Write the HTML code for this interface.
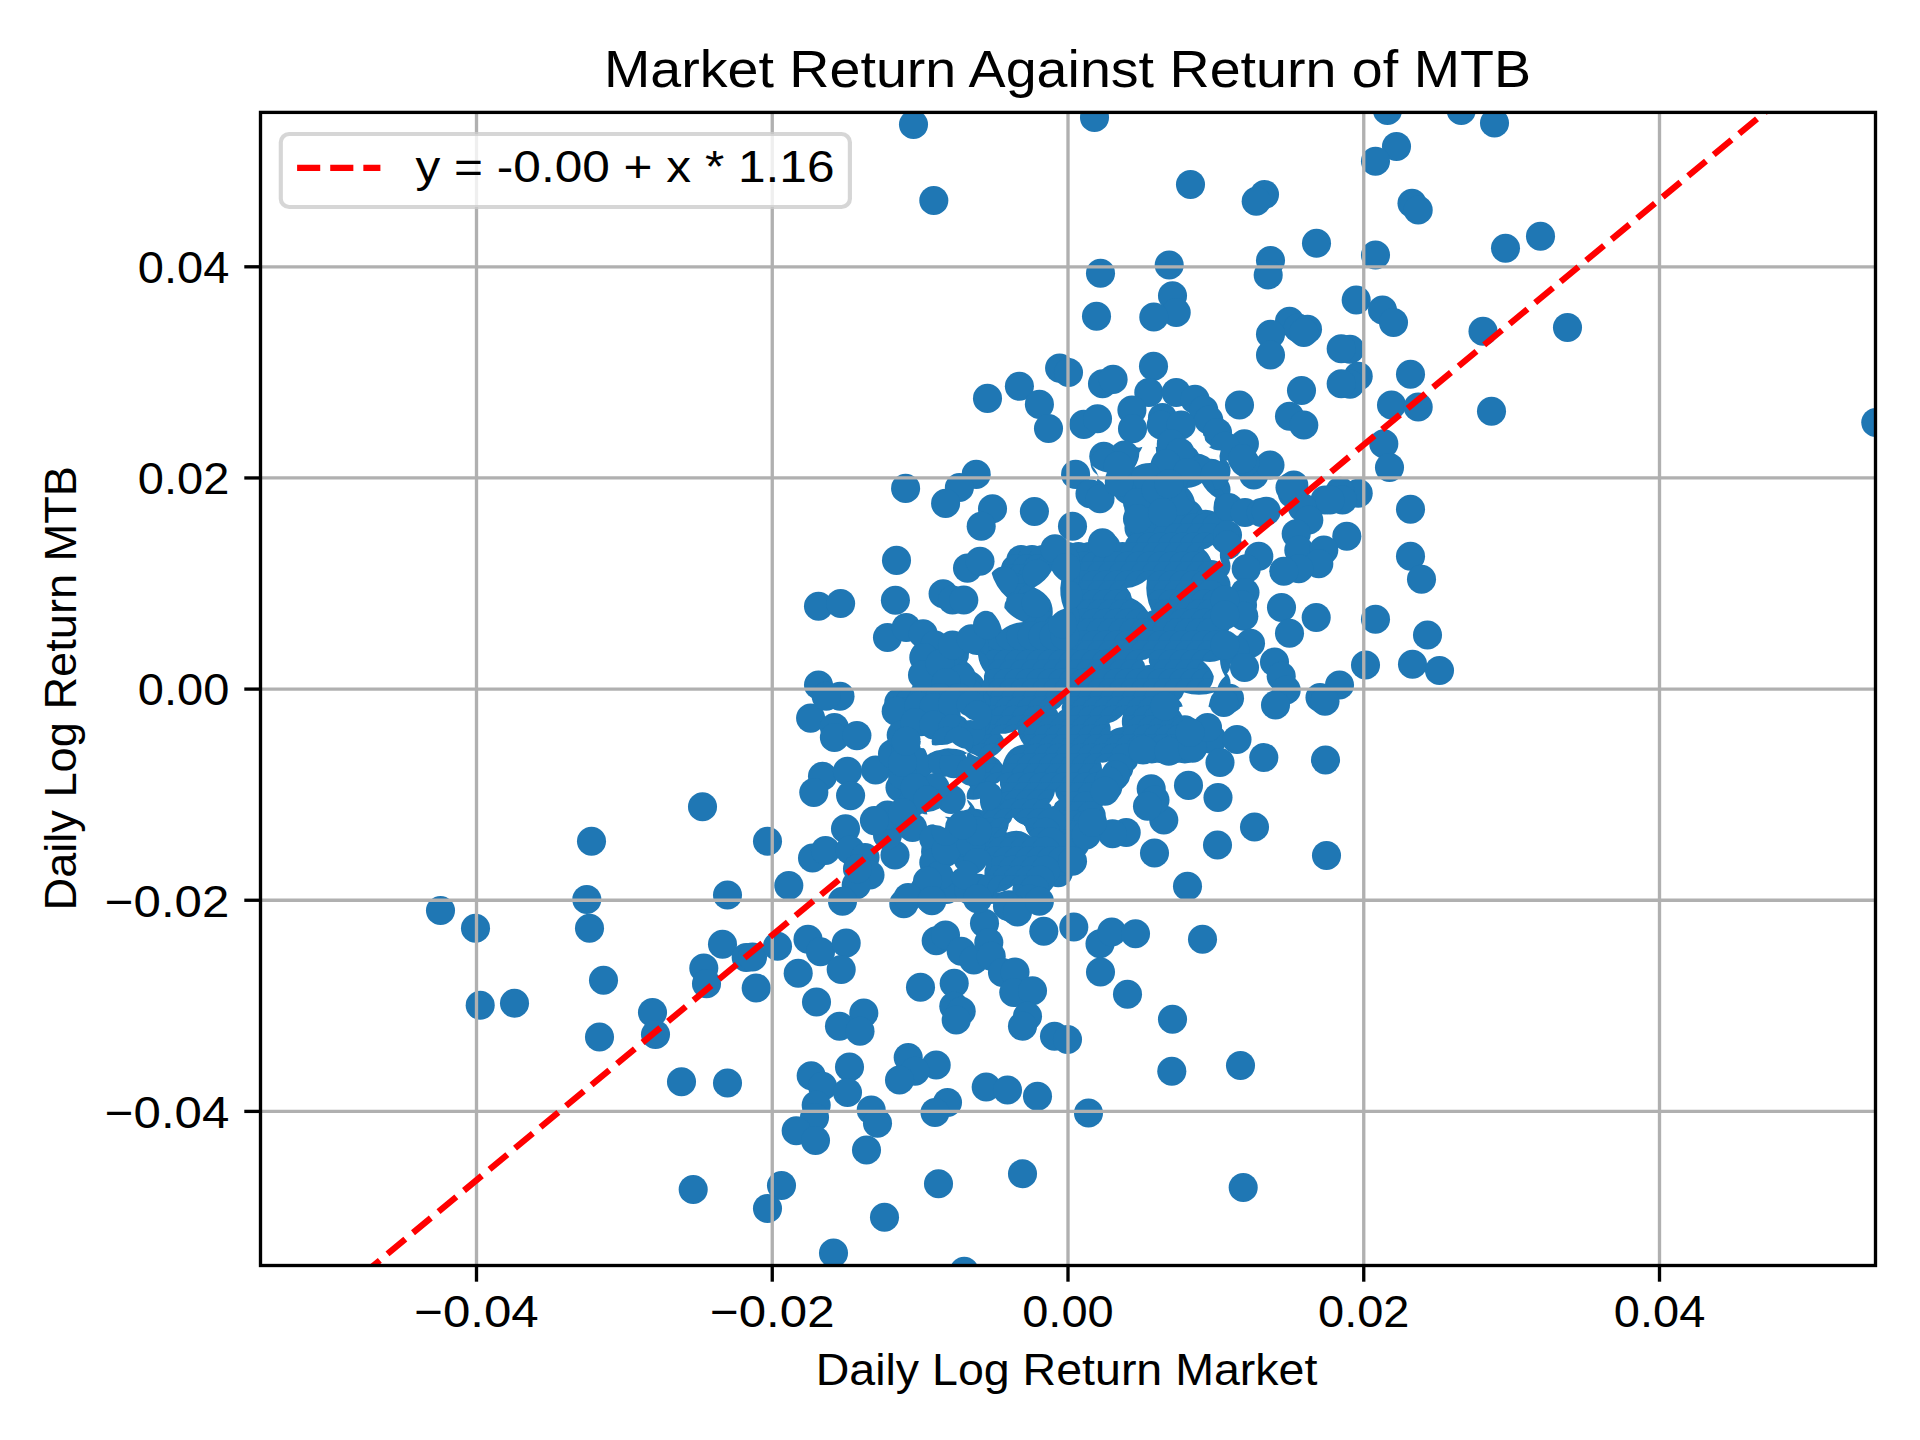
<!DOCTYPE html>
<html><head><meta charset="utf-8"><title>Market Return Against Return of MTB</title>
<style>html,body{margin:0;padding:0;background:#fff;}body{width:1920px;height:1440px;overflow:hidden;}svg{display:block;}text{font-family:"Liberation Sans",sans-serif;fill:#000;}</style></head><body>
<svg width="1920" height="1440" viewBox="0 0 1920 1440">
<defs><clipPath id="ax"><rect x="260.5" y="112.4" width="1615.0" height="1153.1"/></clipPath></defs>
<rect width="1920" height="1440" fill="#fff"/>
<g clip-path="url(#ax)" fill="#1f77b4">
<circle cx="1111.5" cy="461.2" r="14.55"/>
<circle cx="1122.5" cy="461.2" r="14.55"/>
<circle cx="1133.5" cy="461.2" r="14.55"/>
<circle cx="1144.5" cy="461.2" r="14.55"/>
<circle cx="1155.5" cy="461.2" r="14.55"/>
<circle cx="1166.5" cy="461.2" r="14.55"/>
<circle cx="1177.5" cy="461.2" r="14.55"/>
<circle cx="1188.5" cy="461.2" r="14.55"/>
<circle cx="1199.5" cy="461.2" r="14.55"/>
<circle cx="1210.5" cy="461.2" r="14.55"/>
<circle cx="1117.0" cy="470.8" r="14.55"/>
<circle cx="1128.0" cy="470.8" r="14.55"/>
<circle cx="1139.0" cy="470.8" r="14.55"/>
<circle cx="1150.0" cy="470.8" r="14.55"/>
<circle cx="1161.0" cy="470.8" r="14.55"/>
<circle cx="1172.0" cy="470.8" r="14.55"/>
<circle cx="1183.0" cy="470.8" r="14.55"/>
<circle cx="1194.0" cy="470.8" r="14.55"/>
<circle cx="1205.0" cy="470.8" r="14.55"/>
<circle cx="1216.0" cy="470.8" r="14.55"/>
<circle cx="1111.5" cy="480.3" r="14.55"/>
<circle cx="1122.5" cy="480.3" r="14.55"/>
<circle cx="1133.5" cy="480.3" r="14.55"/>
<circle cx="1144.5" cy="480.3" r="14.55"/>
<circle cx="1155.5" cy="480.3" r="14.55"/>
<circle cx="1166.5" cy="480.3" r="14.55"/>
<circle cx="1177.5" cy="480.3" r="14.55"/>
<circle cx="1188.5" cy="480.3" r="14.55"/>
<circle cx="1199.5" cy="480.3" r="14.55"/>
<circle cx="1210.5" cy="480.3" r="14.55"/>
<circle cx="1128.0" cy="489.8" r="14.55"/>
<circle cx="1139.0" cy="489.8" r="14.55"/>
<circle cx="1150.0" cy="489.8" r="14.55"/>
<circle cx="1161.0" cy="489.8" r="14.55"/>
<circle cx="1172.0" cy="489.8" r="14.55"/>
<circle cx="1183.0" cy="489.8" r="14.55"/>
<circle cx="1194.0" cy="489.8" r="14.55"/>
<circle cx="1205.0" cy="489.8" r="14.55"/>
<circle cx="1216.0" cy="489.8" r="14.55"/>
<circle cx="1144.5" cy="499.4" r="14.55"/>
<circle cx="1155.5" cy="499.4" r="14.55"/>
<circle cx="1166.5" cy="499.4" r="14.55"/>
<circle cx="1177.5" cy="499.4" r="14.55"/>
<circle cx="1188.5" cy="499.4" r="14.55"/>
<circle cx="1199.5" cy="499.4" r="14.55"/>
<circle cx="1210.5" cy="499.4" r="14.55"/>
<circle cx="1139.0" cy="508.9" r="14.55"/>
<circle cx="1150.0" cy="508.9" r="14.55"/>
<circle cx="1161.0" cy="508.9" r="14.55"/>
<circle cx="1172.0" cy="508.9" r="14.55"/>
<circle cx="1183.0" cy="508.9" r="14.55"/>
<circle cx="1194.0" cy="508.9" r="14.55"/>
<circle cx="1205.0" cy="508.9" r="14.55"/>
<circle cx="1216.0" cy="508.9" r="14.55"/>
<circle cx="1144.5" cy="518.4" r="14.55"/>
<circle cx="1155.5" cy="518.4" r="14.55"/>
<circle cx="1166.5" cy="518.4" r="14.55"/>
<circle cx="1177.5" cy="518.4" r="14.55"/>
<circle cx="1188.5" cy="518.4" r="14.55"/>
<circle cx="1199.5" cy="518.4" r="14.55"/>
<circle cx="1210.5" cy="518.4" r="14.55"/>
<circle cx="1139.0" cy="527.9" r="14.55"/>
<circle cx="1150.0" cy="527.9" r="14.55"/>
<circle cx="1161.0" cy="527.9" r="14.55"/>
<circle cx="1172.0" cy="527.9" r="14.55"/>
<circle cx="1183.0" cy="527.9" r="14.55"/>
<circle cx="1194.0" cy="527.9" r="14.55"/>
<circle cx="1205.0" cy="527.9" r="14.55"/>
<circle cx="1216.0" cy="527.9" r="14.55"/>
<circle cx="1144.5" cy="537.5" r="14.55"/>
<circle cx="1155.5" cy="537.5" r="14.55"/>
<circle cx="1166.5" cy="537.5" r="14.55"/>
<circle cx="1177.5" cy="537.5" r="14.55"/>
<circle cx="1188.5" cy="537.5" r="14.55"/>
<circle cx="1199.5" cy="537.5" r="14.55"/>
<circle cx="1210.5" cy="537.5" r="14.55"/>
<circle cx="1106.0" cy="547.0" r="14.55"/>
<circle cx="1139.0" cy="547.0" r="14.55"/>
<circle cx="1150.0" cy="547.0" r="14.55"/>
<circle cx="1161.0" cy="547.0" r="14.55"/>
<circle cx="1172.0" cy="547.0" r="14.55"/>
<circle cx="1183.0" cy="547.0" r="14.55"/>
<circle cx="1194.0" cy="547.0" r="14.55"/>
<circle cx="1205.0" cy="547.0" r="14.55"/>
<circle cx="1216.0" cy="547.0" r="14.55"/>
<circle cx="1067.5" cy="556.5" r="14.55"/>
<circle cx="1078.5" cy="556.5" r="14.55"/>
<circle cx="1089.5" cy="556.5" r="14.55"/>
<circle cx="1100.5" cy="556.5" r="14.55"/>
<circle cx="1111.5" cy="556.5" r="14.55"/>
<circle cx="1122.5" cy="556.5" r="14.55"/>
<circle cx="1133.5" cy="556.5" r="14.55"/>
<circle cx="1144.5" cy="556.5" r="14.55"/>
<circle cx="1155.5" cy="556.5" r="14.55"/>
<circle cx="1166.5" cy="556.5" r="14.55"/>
<circle cx="1177.5" cy="556.5" r="14.55"/>
<circle cx="1188.5" cy="556.5" r="14.55"/>
<circle cx="1199.5" cy="556.5" r="14.55"/>
<circle cx="1210.5" cy="556.5" r="14.55"/>
<circle cx="1073.0" cy="566.0" r="14.55"/>
<circle cx="1084.0" cy="566.0" r="14.55"/>
<circle cx="1095.0" cy="566.0" r="14.55"/>
<circle cx="1106.0" cy="566.0" r="14.55"/>
<circle cx="1117.0" cy="566.0" r="14.55"/>
<circle cx="1128.0" cy="566.0" r="14.55"/>
<circle cx="1139.0" cy="566.0" r="14.55"/>
<circle cx="1150.0" cy="566.0" r="14.55"/>
<circle cx="1161.0" cy="566.0" r="14.55"/>
<circle cx="1172.0" cy="566.0" r="14.55"/>
<circle cx="1183.0" cy="566.0" r="14.55"/>
<circle cx="1194.0" cy="566.0" r="14.55"/>
<circle cx="1205.0" cy="566.0" r="14.55"/>
<circle cx="1216.0" cy="566.0" r="14.55"/>
<circle cx="1067.5" cy="575.6" r="14.55"/>
<circle cx="1078.5" cy="575.6" r="14.55"/>
<circle cx="1089.5" cy="575.6" r="14.55"/>
<circle cx="1100.5" cy="575.6" r="14.55"/>
<circle cx="1111.5" cy="575.6" r="14.55"/>
<circle cx="1122.5" cy="575.6" r="14.55"/>
<circle cx="1133.5" cy="575.6" r="14.55"/>
<circle cx="1144.5" cy="575.6" r="14.55"/>
<circle cx="1155.5" cy="575.6" r="14.55"/>
<circle cx="1166.5" cy="575.6" r="14.55"/>
<circle cx="1177.5" cy="575.6" r="14.55"/>
<circle cx="1188.5" cy="575.6" r="14.55"/>
<circle cx="1199.5" cy="575.6" r="14.55"/>
<circle cx="1210.5" cy="575.6" r="14.55"/>
<circle cx="1073.0" cy="585.1" r="14.55"/>
<circle cx="1084.0" cy="585.1" r="14.55"/>
<circle cx="1095.0" cy="585.1" r="14.55"/>
<circle cx="1106.0" cy="585.1" r="14.55"/>
<circle cx="1117.0" cy="585.1" r="14.55"/>
<circle cx="1128.0" cy="585.1" r="14.55"/>
<circle cx="1139.0" cy="585.1" r="14.55"/>
<circle cx="1150.0" cy="585.1" r="14.55"/>
<circle cx="1161.0" cy="585.1" r="14.55"/>
<circle cx="1172.0" cy="585.1" r="14.55"/>
<circle cx="1183.0" cy="585.1" r="14.55"/>
<circle cx="1194.0" cy="585.1" r="14.55"/>
<circle cx="1205.0" cy="585.1" r="14.55"/>
<circle cx="1216.0" cy="585.1" r="14.55"/>
<circle cx="1067.5" cy="594.6" r="14.55"/>
<circle cx="1078.5" cy="594.6" r="14.55"/>
<circle cx="1089.5" cy="594.6" r="14.55"/>
<circle cx="1100.5" cy="594.6" r="14.55"/>
<circle cx="1111.5" cy="594.6" r="14.55"/>
<circle cx="1122.5" cy="594.6" r="14.55"/>
<circle cx="1133.5" cy="594.6" r="14.55"/>
<circle cx="1144.5" cy="594.6" r="14.55"/>
<circle cx="1155.5" cy="594.6" r="14.55"/>
<circle cx="1166.5" cy="594.6" r="14.55"/>
<circle cx="1177.5" cy="594.6" r="14.55"/>
<circle cx="1188.5" cy="594.6" r="14.55"/>
<circle cx="1199.5" cy="594.6" r="14.55"/>
<circle cx="1210.5" cy="594.6" r="14.55"/>
<circle cx="1073.0" cy="604.1" r="14.55"/>
<circle cx="1084.0" cy="604.1" r="14.55"/>
<circle cx="1095.0" cy="604.1" r="14.55"/>
<circle cx="1106.0" cy="604.1" r="14.55"/>
<circle cx="1117.0" cy="604.1" r="14.55"/>
<circle cx="1128.0" cy="604.1" r="14.55"/>
<circle cx="1139.0" cy="604.1" r="14.55"/>
<circle cx="1150.0" cy="604.1" r="14.55"/>
<circle cx="1161.0" cy="604.1" r="14.55"/>
<circle cx="1172.0" cy="604.1" r="14.55"/>
<circle cx="1183.0" cy="604.1" r="14.55"/>
<circle cx="1194.0" cy="604.1" r="14.55"/>
<circle cx="1205.0" cy="604.1" r="14.55"/>
<circle cx="1216.0" cy="604.1" r="14.55"/>
<circle cx="1067.5" cy="613.7" r="14.55"/>
<circle cx="1078.5" cy="613.7" r="14.55"/>
<circle cx="1089.5" cy="613.7" r="14.55"/>
<circle cx="1100.5" cy="613.7" r="14.55"/>
<circle cx="1111.5" cy="613.7" r="14.55"/>
<circle cx="1122.5" cy="613.7" r="14.55"/>
<circle cx="1133.5" cy="613.7" r="14.55"/>
<circle cx="1144.5" cy="613.7" r="14.55"/>
<circle cx="1155.5" cy="613.7" r="14.55"/>
<circle cx="1166.5" cy="613.7" r="14.55"/>
<circle cx="1177.5" cy="613.7" r="14.55"/>
<circle cx="1188.5" cy="613.7" r="14.55"/>
<circle cx="1199.5" cy="613.7" r="14.55"/>
<circle cx="1210.5" cy="613.7" r="14.55"/>
<circle cx="1073.0" cy="623.2" r="14.55"/>
<circle cx="1084.0" cy="623.2" r="14.55"/>
<circle cx="1095.0" cy="623.2" r="14.55"/>
<circle cx="1106.0" cy="623.2" r="14.55"/>
<circle cx="1117.0" cy="623.2" r="14.55"/>
<circle cx="1128.0" cy="623.2" r="14.55"/>
<circle cx="1139.0" cy="623.2" r="14.55"/>
<circle cx="1150.0" cy="623.2" r="14.55"/>
<circle cx="1161.0" cy="623.2" r="14.55"/>
<circle cx="1172.0" cy="623.2" r="14.55"/>
<circle cx="1183.0" cy="623.2" r="14.55"/>
<circle cx="1194.0" cy="623.2" r="14.55"/>
<circle cx="1205.0" cy="623.2" r="14.55"/>
<circle cx="1216.0" cy="623.2" r="14.55"/>
<circle cx="1067.5" cy="632.7" r="14.55"/>
<circle cx="1078.5" cy="632.7" r="14.55"/>
<circle cx="1089.5" cy="632.7" r="14.55"/>
<circle cx="1100.5" cy="632.7" r="14.55"/>
<circle cx="1111.5" cy="632.7" r="14.55"/>
<circle cx="1122.5" cy="632.7" r="14.55"/>
<circle cx="1133.5" cy="632.7" r="14.55"/>
<circle cx="1144.5" cy="632.7" r="14.55"/>
<circle cx="1155.5" cy="632.7" r="14.55"/>
<circle cx="1166.5" cy="632.7" r="14.55"/>
<circle cx="1177.5" cy="632.7" r="14.55"/>
<circle cx="1188.5" cy="632.7" r="14.55"/>
<circle cx="1199.5" cy="632.7" r="14.55"/>
<circle cx="1210.5" cy="632.7" r="14.55"/>
<circle cx="985.0" cy="645.0" r="14.55"/>
<circle cx="996.0" cy="645.0" r="14.55"/>
<circle cx="1007.0" cy="645.0" r="14.55"/>
<circle cx="1018.0" cy="645.0" r="14.55"/>
<circle cx="1029.0" cy="645.0" r="14.55"/>
<circle cx="1040.0" cy="645.0" r="14.55"/>
<circle cx="1051.0" cy="645.0" r="14.55"/>
<circle cx="1062.0" cy="645.0" r="14.55"/>
<circle cx="1073.0" cy="645.0" r="14.55"/>
<circle cx="1084.0" cy="645.0" r="14.55"/>
<circle cx="1095.0" cy="645.0" r="14.55"/>
<circle cx="1106.0" cy="645.0" r="14.55"/>
<circle cx="1117.0" cy="645.0" r="14.55"/>
<circle cx="1128.0" cy="645.0" r="14.55"/>
<circle cx="1139.0" cy="645.0" r="14.55"/>
<circle cx="1150.0" cy="645.0" r="14.55"/>
<circle cx="1161.0" cy="645.0" r="14.55"/>
<circle cx="1172.0" cy="645.0" r="14.55"/>
<circle cx="1183.0" cy="645.0" r="14.55"/>
<circle cx="1194.0" cy="645.0" r="14.55"/>
<circle cx="1205.0" cy="645.0" r="14.55"/>
<circle cx="1216.0" cy="645.0" r="14.55"/>
<circle cx="990.5" cy="654.5" r="14.55"/>
<circle cx="1001.5" cy="654.5" r="14.55"/>
<circle cx="1012.5" cy="654.5" r="14.55"/>
<circle cx="1023.5" cy="654.5" r="14.55"/>
<circle cx="1034.5" cy="654.5" r="14.55"/>
<circle cx="1045.5" cy="654.5" r="14.55"/>
<circle cx="1056.5" cy="654.5" r="14.55"/>
<circle cx="1067.5" cy="654.5" r="14.55"/>
<circle cx="1078.5" cy="654.5" r="14.55"/>
<circle cx="1089.5" cy="654.5" r="14.55"/>
<circle cx="1100.5" cy="654.5" r="14.55"/>
<circle cx="1111.5" cy="654.5" r="14.55"/>
<circle cx="1122.5" cy="654.5" r="14.55"/>
<circle cx="1133.5" cy="654.5" r="14.55"/>
<circle cx="1144.5" cy="654.5" r="14.55"/>
<circle cx="1155.5" cy="654.5" r="14.55"/>
<circle cx="1166.5" cy="654.5" r="14.55"/>
<circle cx="1177.5" cy="654.5" r="14.55"/>
<circle cx="1188.5" cy="654.5" r="14.55"/>
<circle cx="1199.5" cy="654.5" r="14.55"/>
<circle cx="1210.5" cy="654.5" r="14.55"/>
<circle cx="985.0" cy="664.1" r="14.55"/>
<circle cx="996.0" cy="664.1" r="14.55"/>
<circle cx="1007.0" cy="664.1" r="14.55"/>
<circle cx="1018.0" cy="664.1" r="14.55"/>
<circle cx="1029.0" cy="664.1" r="14.55"/>
<circle cx="1040.0" cy="664.1" r="14.55"/>
<circle cx="1051.0" cy="664.1" r="14.55"/>
<circle cx="1062.0" cy="664.1" r="14.55"/>
<circle cx="1073.0" cy="664.1" r="14.55"/>
<circle cx="1084.0" cy="664.1" r="14.55"/>
<circle cx="1095.0" cy="664.1" r="14.55"/>
<circle cx="1106.0" cy="664.1" r="14.55"/>
<circle cx="1117.0" cy="664.1" r="14.55"/>
<circle cx="1128.0" cy="664.1" r="14.55"/>
<circle cx="1139.0" cy="664.1" r="14.55"/>
<circle cx="1150.0" cy="664.1" r="14.55"/>
<circle cx="1161.0" cy="664.1" r="14.55"/>
<circle cx="1172.0" cy="664.1" r="14.55"/>
<circle cx="1183.0" cy="664.1" r="14.55"/>
<circle cx="1194.0" cy="664.1" r="14.55"/>
<circle cx="1205.0" cy="664.1" r="14.55"/>
<circle cx="1216.0" cy="664.1" r="14.55"/>
<circle cx="990.5" cy="673.6" r="14.55"/>
<circle cx="1001.5" cy="673.6" r="14.55"/>
<circle cx="1012.5" cy="673.6" r="14.55"/>
<circle cx="1023.5" cy="673.6" r="14.55"/>
<circle cx="1034.5" cy="673.6" r="14.55"/>
<circle cx="1045.5" cy="673.6" r="14.55"/>
<circle cx="1056.5" cy="673.6" r="14.55"/>
<circle cx="1067.5" cy="673.6" r="14.55"/>
<circle cx="1078.5" cy="673.6" r="14.55"/>
<circle cx="1089.5" cy="673.6" r="14.55"/>
<circle cx="1100.5" cy="673.6" r="14.55"/>
<circle cx="1111.5" cy="673.6" r="14.55"/>
<circle cx="1122.5" cy="673.6" r="14.55"/>
<circle cx="1133.5" cy="673.6" r="14.55"/>
<circle cx="1144.5" cy="673.6" r="14.55"/>
<circle cx="1155.5" cy="673.6" r="14.55"/>
<circle cx="1166.5" cy="673.6" r="14.55"/>
<circle cx="1177.5" cy="673.6" r="14.55"/>
<circle cx="1188.5" cy="673.6" r="14.55"/>
<circle cx="1199.5" cy="673.6" r="14.55"/>
<circle cx="1210.5" cy="673.6" r="14.55"/>
<circle cx="985.0" cy="683.1" r="14.55"/>
<circle cx="996.0" cy="683.1" r="14.55"/>
<circle cx="1007.0" cy="683.1" r="14.55"/>
<circle cx="1018.0" cy="683.1" r="14.55"/>
<circle cx="1029.0" cy="683.1" r="14.55"/>
<circle cx="1040.0" cy="683.1" r="14.55"/>
<circle cx="1051.0" cy="683.1" r="14.55"/>
<circle cx="1062.0" cy="683.1" r="14.55"/>
<circle cx="1073.0" cy="683.1" r="14.55"/>
<circle cx="1084.0" cy="683.1" r="14.55"/>
<circle cx="1095.0" cy="683.1" r="14.55"/>
<circle cx="1106.0" cy="683.1" r="14.55"/>
<circle cx="1117.0" cy="683.1" r="14.55"/>
<circle cx="1128.0" cy="683.1" r="14.55"/>
<circle cx="1139.0" cy="683.1" r="14.55"/>
<circle cx="1150.0" cy="683.1" r="14.55"/>
<circle cx="1161.0" cy="683.1" r="14.55"/>
<circle cx="1172.0" cy="683.1" r="14.55"/>
<circle cx="1183.0" cy="683.1" r="14.55"/>
<circle cx="1194.0" cy="683.1" r="14.55"/>
<circle cx="1205.0" cy="683.1" r="14.55"/>
<circle cx="1216.0" cy="683.1" r="14.55"/>
<circle cx="990.5" cy="692.6" r="14.55"/>
<circle cx="1001.5" cy="692.6" r="14.55"/>
<circle cx="1012.5" cy="692.6" r="14.55"/>
<circle cx="1023.5" cy="692.6" r="14.55"/>
<circle cx="1034.5" cy="692.6" r="14.55"/>
<circle cx="1045.5" cy="692.6" r="14.55"/>
<circle cx="1056.5" cy="692.6" r="14.55"/>
<circle cx="1067.5" cy="692.6" r="14.55"/>
<circle cx="1078.5" cy="692.6" r="14.55"/>
<circle cx="1089.5" cy="692.6" r="14.55"/>
<circle cx="1100.5" cy="692.6" r="14.55"/>
<circle cx="1111.5" cy="692.6" r="14.55"/>
<circle cx="1122.5" cy="692.6" r="14.55"/>
<circle cx="1133.5" cy="692.6" r="14.55"/>
<circle cx="1144.5" cy="692.6" r="14.55"/>
<circle cx="1155.5" cy="692.6" r="14.55"/>
<circle cx="1166.5" cy="692.6" r="14.55"/>
<circle cx="1177.5" cy="692.6" r="14.55"/>
<circle cx="1188.5" cy="692.6" r="14.55"/>
<circle cx="1199.5" cy="692.6" r="14.55"/>
<circle cx="1210.5" cy="692.6" r="14.55"/>
<circle cx="1021.0" cy="559.5" r="14.55"/>
<circle cx="1032.0" cy="559.5" r="14.55"/>
<circle cx="1043.0" cy="559.5" r="14.55"/>
<circle cx="1054.0" cy="559.5" r="14.55"/>
<circle cx="1065.0" cy="559.5" r="14.55"/>
<circle cx="1015.5" cy="569.1" r="14.55"/>
<circle cx="1026.5" cy="569.1" r="14.55"/>
<circle cx="1037.5" cy="569.1" r="14.55"/>
<circle cx="1048.5" cy="569.1" r="14.55"/>
<circle cx="1059.5" cy="569.1" r="14.55"/>
<circle cx="1010.0" cy="578.6" r="14.55"/>
<circle cx="1021.0" cy="578.6" r="14.55"/>
<circle cx="1032.0" cy="578.6" r="14.55"/>
<circle cx="1043.0" cy="578.6" r="14.55"/>
<circle cx="1054.0" cy="578.6" r="14.55"/>
<circle cx="1065.0" cy="578.6" r="14.55"/>
<circle cx="1015.5" cy="588.1" r="14.55"/>
<circle cx="1026.5" cy="588.1" r="14.55"/>
<circle cx="1037.5" cy="588.1" r="14.55"/>
<circle cx="1048.5" cy="588.1" r="14.55"/>
<circle cx="1059.5" cy="588.1" r="14.55"/>
<circle cx="1021.0" cy="597.6" r="14.55"/>
<circle cx="1032.0" cy="597.6" r="14.55"/>
<circle cx="1043.0" cy="597.6" r="14.55"/>
<circle cx="1054.0" cy="597.6" r="14.55"/>
<circle cx="1065.0" cy="597.6" r="14.55"/>
<circle cx="1026.5" cy="607.2" r="14.55"/>
<circle cx="1037.5" cy="607.2" r="14.55"/>
<circle cx="1048.5" cy="607.2" r="14.55"/>
<circle cx="1059.5" cy="607.2" r="14.55"/>
<circle cx="1010.0" cy="616.7" r="14.55"/>
<circle cx="1021.0" cy="616.7" r="14.55"/>
<circle cx="1032.0" cy="616.7" r="14.55"/>
<circle cx="1043.0" cy="616.7" r="14.55"/>
<circle cx="1054.0" cy="616.7" r="14.55"/>
<circle cx="1065.0" cy="616.7" r="14.55"/>
<circle cx="993.5" cy="626.2" r="14.55"/>
<circle cx="1004.5" cy="626.2" r="14.55"/>
<circle cx="1015.5" cy="626.2" r="14.55"/>
<circle cx="1026.5" cy="626.2" r="14.55"/>
<circle cx="1037.5" cy="626.2" r="14.55"/>
<circle cx="1048.5" cy="626.2" r="14.55"/>
<circle cx="1059.5" cy="626.2" r="14.55"/>
<circle cx="988.0" cy="635.7" r="14.55"/>
<circle cx="999.0" cy="635.7" r="14.55"/>
<circle cx="1010.0" cy="635.7" r="14.55"/>
<circle cx="1021.0" cy="635.7" r="14.55"/>
<circle cx="1032.0" cy="635.7" r="14.55"/>
<circle cx="1043.0" cy="635.7" r="14.55"/>
<circle cx="1054.0" cy="635.7" r="14.55"/>
<circle cx="1065.0" cy="635.7" r="14.55"/>
<circle cx="981.2" cy="701.2" r="14.55"/>
<circle cx="992.2" cy="701.2" r="14.55"/>
<circle cx="1003.2" cy="701.2" r="14.55"/>
<circle cx="1014.2" cy="701.2" r="14.55"/>
<circle cx="1025.2" cy="701.2" r="14.55"/>
<circle cx="1036.2" cy="701.2" r="14.55"/>
<circle cx="1047.2" cy="701.2" r="14.55"/>
<circle cx="1058.2" cy="701.2" r="14.55"/>
<circle cx="1069.2" cy="701.2" r="14.55"/>
<circle cx="1080.2" cy="701.2" r="14.55"/>
<circle cx="1091.2" cy="701.2" r="14.55"/>
<circle cx="1102.2" cy="701.2" r="14.55"/>
<circle cx="1113.2" cy="701.2" r="14.55"/>
<circle cx="1124.2" cy="701.2" r="14.55"/>
<circle cx="1135.2" cy="701.2" r="14.55"/>
<circle cx="1146.2" cy="701.2" r="14.55"/>
<circle cx="1157.2" cy="701.2" r="14.55"/>
<circle cx="986.8" cy="710.8" r="14.55"/>
<circle cx="997.8" cy="710.8" r="14.55"/>
<circle cx="1008.8" cy="710.8" r="14.55"/>
<circle cx="1019.8" cy="710.8" r="14.55"/>
<circle cx="1030.8" cy="710.8" r="14.55"/>
<circle cx="1041.8" cy="710.8" r="14.55"/>
<circle cx="1052.8" cy="710.8" r="14.55"/>
<circle cx="1063.8" cy="710.8" r="14.55"/>
<circle cx="1074.8" cy="710.8" r="14.55"/>
<circle cx="1085.8" cy="710.8" r="14.55"/>
<circle cx="1096.8" cy="710.8" r="14.55"/>
<circle cx="1107.8" cy="710.8" r="14.55"/>
<circle cx="1118.8" cy="710.8" r="14.55"/>
<circle cx="1129.8" cy="710.8" r="14.55"/>
<circle cx="1140.8" cy="710.8" r="14.55"/>
<circle cx="1151.8" cy="710.8" r="14.55"/>
<circle cx="1162.8" cy="710.8" r="14.55"/>
<circle cx="981.2" cy="720.3" r="14.55"/>
<circle cx="992.2" cy="720.3" r="14.55"/>
<circle cx="1003.2" cy="720.3" r="14.55"/>
<circle cx="1014.2" cy="720.3" r="14.55"/>
<circle cx="1025.2" cy="720.3" r="14.55"/>
<circle cx="1036.2" cy="720.3" r="14.55"/>
<circle cx="1047.2" cy="720.3" r="14.55"/>
<circle cx="1058.2" cy="720.3" r="14.55"/>
<circle cx="1069.2" cy="720.3" r="14.55"/>
<circle cx="1080.2" cy="720.3" r="14.55"/>
<circle cx="1091.2" cy="720.3" r="14.55"/>
<circle cx="1102.2" cy="720.3" r="14.55"/>
<circle cx="1113.2" cy="720.3" r="14.55"/>
<circle cx="1124.2" cy="720.3" r="14.55"/>
<circle cx="1135.2" cy="720.3" r="14.55"/>
<circle cx="1146.2" cy="720.3" r="14.55"/>
<circle cx="1157.2" cy="720.3" r="14.55"/>
<circle cx="1168.2" cy="720.3" r="14.55"/>
<circle cx="986.8" cy="729.8" r="14.55"/>
<circle cx="997.8" cy="729.8" r="14.55"/>
<circle cx="1008.8" cy="729.8" r="14.55"/>
<circle cx="1019.8" cy="729.8" r="14.55"/>
<circle cx="1030.8" cy="729.8" r="14.55"/>
<circle cx="1041.8" cy="729.8" r="14.55"/>
<circle cx="1052.8" cy="729.8" r="14.55"/>
<circle cx="1063.8" cy="729.8" r="14.55"/>
<circle cx="1074.8" cy="729.8" r="14.55"/>
<circle cx="1085.8" cy="729.8" r="14.55"/>
<circle cx="1096.8" cy="729.8" r="14.55"/>
<circle cx="1107.8" cy="729.8" r="14.55"/>
<circle cx="1118.8" cy="729.8" r="14.55"/>
<circle cx="1129.8" cy="729.8" r="14.55"/>
<circle cx="1140.8" cy="729.8" r="14.55"/>
<circle cx="1151.8" cy="729.8" r="14.55"/>
<circle cx="1162.8" cy="729.8" r="14.55"/>
<circle cx="1173.8" cy="729.8" r="14.55"/>
<circle cx="1184.8" cy="729.8" r="14.55"/>
<circle cx="1206.8" cy="729.8" r="14.55"/>
<circle cx="981.2" cy="739.4" r="14.55"/>
<circle cx="992.2" cy="739.4" r="14.55"/>
<circle cx="1003.2" cy="739.4" r="14.55"/>
<circle cx="1014.2" cy="739.4" r="14.55"/>
<circle cx="1025.2" cy="739.4" r="14.55"/>
<circle cx="1036.2" cy="739.4" r="14.55"/>
<circle cx="1047.2" cy="739.4" r="14.55"/>
<circle cx="1058.2" cy="739.4" r="14.55"/>
<circle cx="1069.2" cy="739.4" r="14.55"/>
<circle cx="1080.2" cy="739.4" r="14.55"/>
<circle cx="1091.2" cy="739.4" r="14.55"/>
<circle cx="1102.2" cy="739.4" r="14.55"/>
<circle cx="1113.2" cy="739.4" r="14.55"/>
<circle cx="1124.2" cy="739.4" r="14.55"/>
<circle cx="1135.2" cy="739.4" r="14.55"/>
<circle cx="1146.2" cy="739.4" r="14.55"/>
<circle cx="1157.2" cy="739.4" r="14.55"/>
<circle cx="1168.2" cy="739.4" r="14.55"/>
<circle cx="1179.2" cy="739.4" r="14.55"/>
<circle cx="1190.2" cy="739.4" r="14.55"/>
<circle cx="1201.2" cy="739.4" r="14.55"/>
<circle cx="1212.2" cy="739.4" r="14.55"/>
<circle cx="986.8" cy="748.9" r="14.55"/>
<circle cx="997.8" cy="748.9" r="14.55"/>
<circle cx="1008.8" cy="748.9" r="14.55"/>
<circle cx="1019.8" cy="748.9" r="14.55"/>
<circle cx="1030.8" cy="748.9" r="14.55"/>
<circle cx="1041.8" cy="748.9" r="14.55"/>
<circle cx="1052.8" cy="748.9" r="14.55"/>
<circle cx="1063.8" cy="748.9" r="14.55"/>
<circle cx="1074.8" cy="748.9" r="14.55"/>
<circle cx="1085.8" cy="748.9" r="14.55"/>
<circle cx="1096.8" cy="748.9" r="14.55"/>
<circle cx="1107.8" cy="748.9" r="14.55"/>
<circle cx="1118.8" cy="748.9" r="14.55"/>
<circle cx="1129.8" cy="748.9" r="14.55"/>
<circle cx="1140.8" cy="748.9" r="14.55"/>
<circle cx="1151.8" cy="748.9" r="14.55"/>
<circle cx="1162.8" cy="748.9" r="14.55"/>
<circle cx="1173.8" cy="748.9" r="14.55"/>
<circle cx="1184.8" cy="748.9" r="14.55"/>
<circle cx="981.2" cy="758.4" r="14.55"/>
<circle cx="992.2" cy="758.4" r="14.55"/>
<circle cx="1003.2" cy="758.4" r="14.55"/>
<circle cx="1014.2" cy="758.4" r="14.55"/>
<circle cx="1025.2" cy="758.4" r="14.55"/>
<circle cx="1036.2" cy="758.4" r="14.55"/>
<circle cx="1047.2" cy="758.4" r="14.55"/>
<circle cx="1058.2" cy="758.4" r="14.55"/>
<circle cx="1069.2" cy="758.4" r="14.55"/>
<circle cx="1080.2" cy="758.4" r="14.55"/>
<circle cx="1091.2" cy="758.4" r="14.55"/>
<circle cx="1102.2" cy="758.4" r="14.55"/>
<circle cx="1113.2" cy="758.4" r="14.55"/>
<circle cx="1124.2" cy="758.4" r="14.55"/>
<circle cx="986.8" cy="767.9" r="14.55"/>
<circle cx="997.8" cy="767.9" r="14.55"/>
<circle cx="1008.8" cy="767.9" r="14.55"/>
<circle cx="1019.8" cy="767.9" r="14.55"/>
<circle cx="1030.8" cy="767.9" r="14.55"/>
<circle cx="1041.8" cy="767.9" r="14.55"/>
<circle cx="1052.8" cy="767.9" r="14.55"/>
<circle cx="1063.8" cy="767.9" r="14.55"/>
<circle cx="1074.8" cy="767.9" r="14.55"/>
<circle cx="1085.8" cy="767.9" r="14.55"/>
<circle cx="1096.8" cy="767.9" r="14.55"/>
<circle cx="1107.8" cy="767.9" r="14.55"/>
<circle cx="1118.8" cy="767.9" r="14.55"/>
<circle cx="981.2" cy="777.5" r="14.55"/>
<circle cx="992.2" cy="777.5" r="14.55"/>
<circle cx="1003.2" cy="777.5" r="14.55"/>
<circle cx="1014.2" cy="777.5" r="14.55"/>
<circle cx="1025.2" cy="777.5" r="14.55"/>
<circle cx="1036.2" cy="777.5" r="14.55"/>
<circle cx="1047.2" cy="777.5" r="14.55"/>
<circle cx="1058.2" cy="777.5" r="14.55"/>
<circle cx="1069.2" cy="777.5" r="14.55"/>
<circle cx="1080.2" cy="777.5" r="14.55"/>
<circle cx="1091.2" cy="777.5" r="14.55"/>
<circle cx="1102.2" cy="777.5" r="14.55"/>
<circle cx="1113.2" cy="777.5" r="14.55"/>
<circle cx="986.8" cy="787.0" r="14.55"/>
<circle cx="997.8" cy="787.0" r="14.55"/>
<circle cx="1008.8" cy="787.0" r="14.55"/>
<circle cx="1019.8" cy="787.0" r="14.55"/>
<circle cx="1030.8" cy="787.0" r="14.55"/>
<circle cx="1041.8" cy="787.0" r="14.55"/>
<circle cx="1052.8" cy="787.0" r="14.55"/>
<circle cx="1063.8" cy="787.0" r="14.55"/>
<circle cx="1074.8" cy="787.0" r="14.55"/>
<circle cx="1085.8" cy="787.0" r="14.55"/>
<circle cx="1096.8" cy="787.0" r="14.55"/>
<circle cx="1107.8" cy="787.0" r="14.55"/>
<circle cx="981.2" cy="796.5" r="14.55"/>
<circle cx="992.2" cy="796.5" r="14.55"/>
<circle cx="1003.2" cy="796.5" r="14.55"/>
<circle cx="1014.2" cy="796.5" r="14.55"/>
<circle cx="1025.2" cy="796.5" r="14.55"/>
<circle cx="1036.2" cy="796.5" r="14.55"/>
<circle cx="1047.2" cy="796.5" r="14.55"/>
<circle cx="1058.2" cy="796.5" r="14.55"/>
<circle cx="1069.2" cy="796.5" r="14.55"/>
<circle cx="1080.2" cy="796.5" r="14.55"/>
<circle cx="1091.2" cy="796.5" r="14.55"/>
<circle cx="986.8" cy="806.0" r="14.55"/>
<circle cx="997.8" cy="806.0" r="14.55"/>
<circle cx="1008.8" cy="806.0" r="14.55"/>
<circle cx="1019.8" cy="806.0" r="14.55"/>
<circle cx="1030.8" cy="806.0" r="14.55"/>
<circle cx="1041.8" cy="806.0" r="14.55"/>
<circle cx="1052.8" cy="806.0" r="14.55"/>
<circle cx="1063.8" cy="806.0" r="14.55"/>
<circle cx="1074.8" cy="806.0" r="14.55"/>
<circle cx="1085.8" cy="806.0" r="14.55"/>
<circle cx="981.2" cy="815.6" r="14.55"/>
<circle cx="992.2" cy="815.6" r="14.55"/>
<circle cx="1003.2" cy="815.6" r="14.55"/>
<circle cx="1014.2" cy="815.6" r="14.55"/>
<circle cx="1025.2" cy="815.6" r="14.55"/>
<circle cx="1036.2" cy="815.6" r="14.55"/>
<circle cx="1047.2" cy="815.6" r="14.55"/>
<circle cx="1058.2" cy="815.6" r="14.55"/>
<circle cx="1069.2" cy="815.6" r="14.55"/>
<circle cx="1080.2" cy="815.6" r="14.55"/>
<circle cx="1091.2" cy="815.6" r="14.55"/>
<circle cx="986.8" cy="825.1" r="14.55"/>
<circle cx="997.8" cy="825.1" r="14.55"/>
<circle cx="1008.8" cy="825.1" r="14.55"/>
<circle cx="1019.8" cy="825.1" r="14.55"/>
<circle cx="1030.8" cy="825.1" r="14.55"/>
<circle cx="1041.8" cy="825.1" r="14.55"/>
<circle cx="1052.8" cy="825.1" r="14.55"/>
<circle cx="1063.8" cy="825.1" r="14.55"/>
<circle cx="1074.8" cy="825.1" r="14.55"/>
<circle cx="1085.8" cy="825.1" r="14.55"/>
<circle cx="981.2" cy="834.6" r="14.55"/>
<circle cx="992.2" cy="834.6" r="14.55"/>
<circle cx="1003.2" cy="834.6" r="14.55"/>
<circle cx="1014.2" cy="834.6" r="14.55"/>
<circle cx="1025.2" cy="834.6" r="14.55"/>
<circle cx="1036.2" cy="834.6" r="14.55"/>
<circle cx="1047.2" cy="834.6" r="14.55"/>
<circle cx="1058.2" cy="834.6" r="14.55"/>
<circle cx="1069.2" cy="834.6" r="14.55"/>
<circle cx="1080.2" cy="834.6" r="14.55"/>
<circle cx="986.8" cy="844.1" r="14.55"/>
<circle cx="997.8" cy="844.1" r="14.55"/>
<circle cx="1008.8" cy="844.1" r="14.55"/>
<circle cx="1019.8" cy="844.1" r="14.55"/>
<circle cx="1030.8" cy="844.1" r="14.55"/>
<circle cx="1041.8" cy="844.1" r="14.55"/>
<circle cx="1052.8" cy="844.1" r="14.55"/>
<circle cx="1063.8" cy="844.1" r="14.55"/>
<circle cx="1074.8" cy="844.1" r="14.55"/>
<circle cx="981.2" cy="853.7" r="14.55"/>
<circle cx="992.2" cy="853.7" r="14.55"/>
<circle cx="1003.2" cy="853.7" r="14.55"/>
<circle cx="1014.2" cy="853.7" r="14.55"/>
<circle cx="1025.2" cy="853.7" r="14.55"/>
<circle cx="1036.2" cy="853.7" r="14.55"/>
<circle cx="1047.2" cy="853.7" r="14.55"/>
<circle cx="1058.2" cy="853.7" r="14.55"/>
<circle cx="1069.2" cy="853.7" r="14.55"/>
<circle cx="986.8" cy="863.2" r="14.55"/>
<circle cx="997.8" cy="863.2" r="14.55"/>
<circle cx="1008.8" cy="863.2" r="14.55"/>
<circle cx="1019.8" cy="863.2" r="14.55"/>
<circle cx="1030.8" cy="863.2" r="14.55"/>
<circle cx="1041.8" cy="863.2" r="14.55"/>
<circle cx="1052.8" cy="863.2" r="14.55"/>
<circle cx="1063.8" cy="863.2" r="14.55"/>
<circle cx="981.2" cy="872.7" r="14.55"/>
<circle cx="992.2" cy="872.7" r="14.55"/>
<circle cx="1003.2" cy="872.7" r="14.55"/>
<circle cx="1014.2" cy="872.7" r="14.55"/>
<circle cx="1025.2" cy="872.7" r="14.55"/>
<circle cx="1036.2" cy="872.7" r="14.55"/>
<circle cx="1047.2" cy="872.7" r="14.55"/>
<circle cx="1058.2" cy="872.7" r="14.55"/>
<circle cx="898.8" cy="702.5" r="14.55"/>
<circle cx="909.8" cy="702.5" r="14.55"/>
<circle cx="920.8" cy="702.5" r="14.55"/>
<circle cx="931.8" cy="702.5" r="14.55"/>
<circle cx="942.8" cy="702.5" r="14.55"/>
<circle cx="953.8" cy="702.5" r="14.55"/>
<circle cx="964.8" cy="702.5" r="14.55"/>
<circle cx="975.8" cy="702.5" r="14.55"/>
<circle cx="904.2" cy="712.0" r="14.55"/>
<circle cx="915.2" cy="712.0" r="14.55"/>
<circle cx="926.2" cy="712.0" r="14.55"/>
<circle cx="937.2" cy="712.0" r="14.55"/>
<circle cx="948.2" cy="712.0" r="14.55"/>
<circle cx="959.2" cy="712.0" r="14.55"/>
<circle cx="970.2" cy="712.0" r="14.55"/>
<circle cx="909.8" cy="721.6" r="14.55"/>
<circle cx="920.8" cy="721.6" r="14.55"/>
<circle cx="931.8" cy="721.6" r="14.55"/>
<circle cx="942.8" cy="721.6" r="14.55"/>
<circle cx="953.8" cy="721.6" r="14.55"/>
<circle cx="964.8" cy="721.6" r="14.55"/>
<circle cx="975.8" cy="721.6" r="14.55"/>
<circle cx="904.2" cy="731.1" r="14.55"/>
<circle cx="963.5" cy="645.8" r="14.55"/>
<circle cx="974.5" cy="645.8" r="14.55"/>
<circle cx="925.0" cy="655.3" r="14.55"/>
<circle cx="936.0" cy="655.3" r="14.55"/>
<circle cx="947.0" cy="655.3" r="14.55"/>
<circle cx="958.0" cy="655.3" r="14.55"/>
<circle cx="969.0" cy="655.3" r="14.55"/>
<circle cx="930.5" cy="664.8" r="14.55"/>
<circle cx="941.5" cy="664.8" r="14.55"/>
<circle cx="952.5" cy="664.8" r="14.55"/>
<circle cx="963.5" cy="664.8" r="14.55"/>
<circle cx="974.5" cy="664.8" r="14.55"/>
<circle cx="925.0" cy="674.4" r="14.55"/>
<circle cx="936.0" cy="674.4" r="14.55"/>
<circle cx="947.0" cy="674.4" r="14.55"/>
<circle cx="958.0" cy="674.4" r="14.55"/>
<circle cx="969.0" cy="674.4" r="14.55"/>
<circle cx="930.5" cy="683.9" r="14.55"/>
<circle cx="941.5" cy="683.9" r="14.55"/>
<circle cx="952.5" cy="683.9" r="14.55"/>
<circle cx="963.5" cy="683.9" r="14.55"/>
<circle cx="974.5" cy="683.9" r="14.55"/>
<circle cx="925.0" cy="693.4" r="14.55"/>
<circle cx="936.0" cy="693.4" r="14.55"/>
<circle cx="947.0" cy="693.4" r="14.55"/>
<circle cx="958.0" cy="693.4" r="14.55"/>
<circle cx="969.0" cy="693.4" r="14.55"/>
<circle cx="1018.1" cy="803.8" r="14.55"/>
<circle cx="1029.1" cy="803.8" r="14.55"/>
<circle cx="1040.1" cy="803.8" r="14.55"/>
<circle cx="1051.1" cy="803.8" r="14.55"/>
<circle cx="990.6" cy="813.3" r="14.55"/>
<circle cx="1001.6" cy="813.3" r="14.55"/>
<circle cx="1012.6" cy="813.3" r="14.55"/>
<circle cx="1023.6" cy="813.3" r="14.55"/>
<circle cx="1034.6" cy="813.3" r="14.55"/>
<circle cx="1045.6" cy="813.3" r="14.55"/>
<circle cx="974.1" cy="822.8" r="14.55"/>
<circle cx="985.1" cy="822.8" r="14.55"/>
<circle cx="996.1" cy="822.8" r="14.55"/>
<circle cx="1007.1" cy="822.8" r="14.55"/>
<circle cx="1018.1" cy="822.8" r="14.55"/>
<circle cx="1029.1" cy="822.8" r="14.55"/>
<circle cx="1040.1" cy="822.8" r="14.55"/>
<circle cx="1051.1" cy="822.8" r="14.55"/>
<circle cx="957.6" cy="832.3" r="14.55"/>
<circle cx="968.6" cy="832.3" r="14.55"/>
<circle cx="979.6" cy="832.3" r="14.55"/>
<circle cx="990.6" cy="832.3" r="14.55"/>
<circle cx="1001.6" cy="832.3" r="14.55"/>
<circle cx="1012.6" cy="832.3" r="14.55"/>
<circle cx="1023.6" cy="832.3" r="14.55"/>
<circle cx="1034.6" cy="832.3" r="14.55"/>
<circle cx="1045.6" cy="832.3" r="14.55"/>
<circle cx="941.1" cy="841.9" r="14.55"/>
<circle cx="952.1" cy="841.9" r="14.55"/>
<circle cx="963.1" cy="841.9" r="14.55"/>
<circle cx="974.1" cy="841.9" r="14.55"/>
<circle cx="985.1" cy="841.9" r="14.55"/>
<circle cx="996.1" cy="841.9" r="14.55"/>
<circle cx="1007.1" cy="841.9" r="14.55"/>
<circle cx="1018.1" cy="841.9" r="14.55"/>
<circle cx="1029.1" cy="841.9" r="14.55"/>
<circle cx="1040.1" cy="841.9" r="14.55"/>
<circle cx="1051.1" cy="841.9" r="14.55"/>
<circle cx="935.6" cy="851.4" r="14.55"/>
<circle cx="946.6" cy="851.4" r="14.55"/>
<circle cx="957.6" cy="851.4" r="14.55"/>
<circle cx="968.6" cy="851.4" r="14.55"/>
<circle cx="979.6" cy="851.4" r="14.55"/>
<circle cx="990.6" cy="851.4" r="14.55"/>
<circle cx="1001.6" cy="851.4" r="14.55"/>
<circle cx="1012.6" cy="851.4" r="14.55"/>
<circle cx="1023.6" cy="851.4" r="14.55"/>
<circle cx="1034.6" cy="851.4" r="14.55"/>
<circle cx="1045.6" cy="851.4" r="14.55"/>
<circle cx="941.1" cy="860.9" r="14.55"/>
<circle cx="952.1" cy="860.9" r="14.55"/>
<circle cx="963.1" cy="860.9" r="14.55"/>
<circle cx="974.1" cy="860.9" r="14.55"/>
<circle cx="985.1" cy="860.9" r="14.55"/>
<circle cx="996.1" cy="860.9" r="14.55"/>
<circle cx="1007.1" cy="860.9" r="14.55"/>
<circle cx="1018.1" cy="860.9" r="14.55"/>
<circle cx="1029.1" cy="860.9" r="14.55"/>
<circle cx="1040.1" cy="860.9" r="14.55"/>
<circle cx="1051.1" cy="860.9" r="14.55"/>
<circle cx="1062.1" cy="860.9" r="14.55"/>
<circle cx="946.6" cy="870.4" r="14.55"/>
<circle cx="957.6" cy="870.4" r="14.55"/>
<circle cx="968.6" cy="870.4" r="14.55"/>
<circle cx="979.6" cy="870.4" r="14.55"/>
<circle cx="990.6" cy="870.4" r="14.55"/>
<circle cx="1001.6" cy="870.4" r="14.55"/>
<circle cx="1012.6" cy="870.4" r="14.55"/>
<circle cx="1023.6" cy="870.4" r="14.55"/>
<circle cx="1034.6" cy="870.4" r="14.55"/>
<circle cx="1045.6" cy="870.4" r="14.55"/>
<circle cx="930.1" cy="880.0" r="14.55"/>
<circle cx="941.1" cy="880.0" r="14.55"/>
<circle cx="952.1" cy="880.0" r="14.55"/>
<circle cx="963.1" cy="880.0" r="14.55"/>
<circle cx="974.1" cy="880.0" r="14.55"/>
<circle cx="985.1" cy="880.0" r="14.55"/>
<circle cx="996.1" cy="880.0" r="14.55"/>
<circle cx="1007.1" cy="880.0" r="14.55"/>
<circle cx="1018.1" cy="880.0" r="14.55"/>
<circle cx="1029.1" cy="880.0" r="14.55"/>
<circle cx="1040.1" cy="880.0" r="14.55"/>
<circle cx="924.6" cy="889.5" r="14.55"/>
<circle cx="935.6" cy="889.5" r="14.55"/>
<circle cx="946.6" cy="889.5" r="14.55"/>
<circle cx="968.6" cy="889.5" r="14.55"/>
<circle cx="979.6" cy="889.5" r="14.55"/>
<circle cx="990.6" cy="889.5" r="14.55"/>
<circle cx="1001.6" cy="889.5" r="14.55"/>
<circle cx="1012.6" cy="889.5" r="14.55"/>
<circle cx="1023.6" cy="889.5" r="14.55"/>
<circle cx="1034.6" cy="889.5" r="14.55"/>
<circle cx="930.1" cy="899.0" r="14.55"/>
<circle cx="1007.1" cy="899.0" r="14.55"/>
<circle cx="1018.1" cy="899.0" r="14.55"/>
<circle cx="1029.1" cy="899.0" r="14.55"/>
<circle cx="1012.6" cy="908.5" r="14.55"/>
<circle cx="913.5" cy="124.5" r="14.55"/>
<circle cx="933.8" cy="200.5" r="14.55"/>
<circle cx="1094.5" cy="117.5" r="14.55"/>
<circle cx="1190.5" cy="184.5" r="14.55"/>
<circle cx="1100.5" cy="273.2" r="14.55"/>
<circle cx="1169.2" cy="265.0" r="14.55"/>
<circle cx="1172.5" cy="295.8" r="14.55"/>
<circle cx="1176.2" cy="312.5" r="14.55"/>
<circle cx="1153.8" cy="317.0" r="14.55"/>
<circle cx="1096.5" cy="316.2" r="14.55"/>
<circle cx="1387.5" cy="110.5" r="14.55"/>
<circle cx="1461.2" cy="110.5" r="14.55"/>
<circle cx="1494.5" cy="123.0" r="14.55"/>
<circle cx="1396.5" cy="146.5" r="14.55"/>
<circle cx="1375.5" cy="161.2" r="14.55"/>
<circle cx="1264.5" cy="194.5" r="14.55"/>
<circle cx="1256.2" cy="201.2" r="14.55"/>
<circle cx="1412.0" cy="203.2" r="14.55"/>
<circle cx="1418.2" cy="210.0" r="14.55"/>
<circle cx="1316.5" cy="243.2" r="14.55"/>
<circle cx="1540.5" cy="236.2" r="14.55"/>
<circle cx="1505.5" cy="248.2" r="14.55"/>
<circle cx="1375.5" cy="255.0" r="14.55"/>
<circle cx="1270.5" cy="260.5" r="14.55"/>
<circle cx="1268.2" cy="275.0" r="14.55"/>
<circle cx="1356.2" cy="300.0" r="14.55"/>
<circle cx="1382.5" cy="310.0" r="14.55"/>
<circle cx="1393.5" cy="322.5" r="14.55"/>
<circle cx="1289.5" cy="321.2" r="14.55"/>
<circle cx="1298.0" cy="328.0" r="14.55"/>
<circle cx="1307.5" cy="329.2" r="14.55"/>
<circle cx="1270.5" cy="334.2" r="14.55"/>
<circle cx="1270.5" cy="355.0" r="14.55"/>
<circle cx="1483.0" cy="331.2" r="14.55"/>
<circle cx="1567.5" cy="327.5" r="14.55"/>
<circle cx="1350.0" cy="349.2" r="14.55"/>
<circle cx="1358.2" cy="376.2" r="14.55"/>
<circle cx="1350.0" cy="384.2" r="14.55"/>
<circle cx="1410.5" cy="374.2" r="14.55"/>
<circle cx="1301.5" cy="390.5" r="14.55"/>
<circle cx="1239.5" cy="405.0" r="14.55"/>
<circle cx="1391.5" cy="405.0" r="14.55"/>
<circle cx="1418.2" cy="407.0" r="14.55"/>
<circle cx="1491.5" cy="411.2" r="14.55"/>
<circle cx="1289.5" cy="416.2" r="14.55"/>
<circle cx="1303.8" cy="425.0" r="14.55"/>
<circle cx="1383.8" cy="443.8" r="14.55"/>
<circle cx="1875.8" cy="422.5" r="14.55"/>
<circle cx="1389.5" cy="467.5" r="14.55"/>
<circle cx="1410.5" cy="509.2" r="14.55"/>
<circle cx="1410.5" cy="556.2" r="14.55"/>
<circle cx="1421.5" cy="579.2" r="14.55"/>
<circle cx="1375.5" cy="619.2" r="14.55"/>
<circle cx="1427.5" cy="635.0" r="14.55"/>
<circle cx="1412.5" cy="664.2" r="14.55"/>
<circle cx="1439.5" cy="670.5" r="14.55"/>
<circle cx="1365.5" cy="665.0" r="14.55"/>
<circle cx="1346.8" cy="536.2" r="14.55"/>
<circle cx="1358.2" cy="493.2" r="14.55"/>
<circle cx="1340.0" cy="491.2" r="14.55"/>
<circle cx="1342.5" cy="500.0" r="14.55"/>
<circle cx="1325.0" cy="500.0" r="14.55"/>
<circle cx="1293.8" cy="485.0" r="14.55"/>
<circle cx="1292.5" cy="493.8" r="14.55"/>
<circle cx="1253.8" cy="475.0" r="14.55"/>
<circle cx="1270.0" cy="465.0" r="14.55"/>
<circle cx="1245.0" cy="462.5" r="14.55"/>
<circle cx="1228.8" cy="507.5" r="14.55"/>
<circle cx="1245.0" cy="512.5" r="14.55"/>
<circle cx="1261.2" cy="512.5" r="14.55"/>
<circle cx="1266.2" cy="511.2" r="14.55"/>
<circle cx="1302.5" cy="507.5" r="14.55"/>
<circle cx="1308.8" cy="520.0" r="14.55"/>
<circle cx="1296.2" cy="533.8" r="14.55"/>
<circle cx="1298.8" cy="550.0" r="14.55"/>
<circle cx="1323.8" cy="550.0" r="14.55"/>
<circle cx="1318.8" cy="563.8" r="14.55"/>
<circle cx="1298.8" cy="568.8" r="14.55"/>
<circle cx="1283.8" cy="571.2" r="14.55"/>
<circle cx="1258.8" cy="556.2" r="14.55"/>
<circle cx="1246.2" cy="568.8" r="14.55"/>
<circle cx="1245.0" cy="592.5" r="14.55"/>
<circle cx="1242.5" cy="605.0" r="14.55"/>
<circle cx="1243.8" cy="616.2" r="14.55"/>
<circle cx="1227.5" cy="535.0" r="14.55"/>
<circle cx="1227.5" cy="545.0" r="14.55"/>
<circle cx="1225.0" cy="600.0" r="14.55"/>
<circle cx="1225.0" cy="615.0" r="14.55"/>
<circle cx="1281.5" cy="607.5" r="14.55"/>
<circle cx="1316.2" cy="617.5" r="14.55"/>
<circle cx="1289.5" cy="633.2" r="14.55"/>
<circle cx="1250.5" cy="643.2" r="14.55"/>
<circle cx="1235.0" cy="650.0" r="14.55"/>
<circle cx="1225.0" cy="645.0" r="14.55"/>
<circle cx="1244.5" cy="667.5" r="14.55"/>
<circle cx="1274.5" cy="662.0" r="14.55"/>
<circle cx="1281.2" cy="676.2" r="14.55"/>
<circle cx="1286.2" cy="690.0" r="14.55"/>
<circle cx="1275.5" cy="705.0" r="14.55"/>
<circle cx="1339.5" cy="685.0" r="14.55"/>
<circle cx="1320.0" cy="697.5" r="14.55"/>
<circle cx="1325.0" cy="701.2" r="14.55"/>
<circle cx="1229.5" cy="698.2" r="14.55"/>
<circle cx="1237.0" cy="739.5" r="14.55"/>
<circle cx="1263.8" cy="757.5" r="14.55"/>
<circle cx="1325.5" cy="760.0" r="14.55"/>
<circle cx="1220.0" cy="762.5" r="14.55"/>
<circle cx="1218.0" cy="797.5" r="14.55"/>
<circle cx="1254.5" cy="827.0" r="14.55"/>
<circle cx="1217.5" cy="845.0" r="14.55"/>
<circle cx="1326.5" cy="855.5" r="14.55"/>
<circle cx="1240.5" cy="1065.5" r="14.55"/>
<circle cx="1243.2" cy="1187.5" r="14.55"/>
<circle cx="591.5" cy="841.2" r="14.55"/>
<circle cx="702.5" cy="806.8" r="14.55"/>
<circle cx="440.5" cy="910.5" r="14.55"/>
<circle cx="475.5" cy="928.2" r="14.55"/>
<circle cx="586.8" cy="899.5" r="14.55"/>
<circle cx="589.5" cy="928.2" r="14.55"/>
<circle cx="727.5" cy="895.0" r="14.55"/>
<circle cx="722.5" cy="944.2" r="14.55"/>
<circle cx="703.8" cy="968.0" r="14.55"/>
<circle cx="706.5" cy="983.8" r="14.55"/>
<circle cx="603.5" cy="980.2" r="14.55"/>
<circle cx="480.2" cy="1005.2" r="14.55"/>
<circle cx="514.5" cy="1003.2" r="14.55"/>
<circle cx="652.5" cy="1012.5" r="14.55"/>
<circle cx="655.5" cy="1034.5" r="14.55"/>
<circle cx="599.5" cy="1037.0" r="14.55"/>
<circle cx="681.5" cy="1081.8" r="14.55"/>
<circle cx="727.5" cy="1083.0" r="14.55"/>
<circle cx="693.2" cy="1189.5" r="14.55"/>
<circle cx="746.2" cy="957.5" r="14.55"/>
<circle cx="767.5" cy="841.2" r="14.55"/>
<circle cx="788.8" cy="885.5" r="14.55"/>
<circle cx="812.5" cy="858.0" r="14.55"/>
<circle cx="825.5" cy="850.5" r="14.55"/>
<circle cx="845.5" cy="828.8" r="14.55"/>
<circle cx="850.0" cy="850.0" r="14.55"/>
<circle cx="865.0" cy="857.5" r="14.55"/>
<circle cx="870.0" cy="875.0" r="14.55"/>
<circle cx="856.2" cy="885.0" r="14.55"/>
<circle cx="842.5" cy="901.2" r="14.55"/>
<circle cx="895.0" cy="855.0" r="14.55"/>
<circle cx="887.5" cy="835.0" r="14.55"/>
<circle cx="752.5" cy="957.0" r="14.55"/>
<circle cx="777.5" cy="946.2" r="14.55"/>
<circle cx="756.2" cy="988.0" r="14.55"/>
<circle cx="808.0" cy="939.2" r="14.55"/>
<circle cx="820.5" cy="951.8" r="14.55"/>
<circle cx="846.2" cy="943.0" r="14.55"/>
<circle cx="841.2" cy="969.5" r="14.55"/>
<circle cx="798.2" cy="973.2" r="14.55"/>
<circle cx="816.5" cy="1002.0" r="14.55"/>
<circle cx="863.8" cy="1013.0" r="14.55"/>
<circle cx="839.5" cy="1026.2" r="14.55"/>
<circle cx="860.0" cy="1031.2" r="14.55"/>
<circle cx="920.5" cy="987.2" r="14.55"/>
<circle cx="954.2" cy="983.2" r="14.55"/>
<circle cx="953.8" cy="1006.2" r="14.55"/>
<circle cx="961.2" cy="1011.2" r="14.55"/>
<circle cx="956.2" cy="1020.0" r="14.55"/>
<circle cx="936.2" cy="940.8" r="14.55"/>
<circle cx="945.5" cy="935.0" r="14.55"/>
<circle cx="961.2" cy="951.2" r="14.55"/>
<circle cx="973.8" cy="960.0" r="14.55"/>
<circle cx="984.5" cy="923.2" r="14.55"/>
<circle cx="988.8" cy="942.5" r="14.55"/>
<circle cx="991.2" cy="956.2" r="14.55"/>
<circle cx="1002.5" cy="972.5" r="14.55"/>
<circle cx="1015.0" cy="972.0" r="14.55"/>
<circle cx="1013.8" cy="992.5" r="14.55"/>
<circle cx="1032.5" cy="990.8" r="14.55"/>
<circle cx="1027.5" cy="1016.2" r="14.55"/>
<circle cx="1022.5" cy="1026.2" r="14.55"/>
<circle cx="1054.5" cy="1036.2" r="14.55"/>
<circle cx="1067.5" cy="1039.5" r="14.55"/>
<circle cx="1043.8" cy="931.2" r="14.55"/>
<circle cx="1073.8" cy="927.0" r="14.55"/>
<circle cx="1100.0" cy="943.8" r="14.55"/>
<circle cx="1111.8" cy="932.0" r="14.55"/>
<circle cx="1135.5" cy="933.8" r="14.55"/>
<circle cx="1100.5" cy="972.0" r="14.55"/>
<circle cx="1127.5" cy="994.2" r="14.55"/>
<circle cx="1202.5" cy="939.2" r="14.55"/>
<circle cx="1172.5" cy="1019.2" r="14.55"/>
<circle cx="1171.8" cy="1071.2" r="14.55"/>
<circle cx="1187.5" cy="886.2" r="14.55"/>
<circle cx="1154.5" cy="853.0" r="14.55"/>
<circle cx="1163.8" cy="820.0" r="14.55"/>
<circle cx="1126.2" cy="832.5" r="14.55"/>
<circle cx="1112.5" cy="833.8" r="14.55"/>
<circle cx="1086.2" cy="835.0" r="14.55"/>
<circle cx="1072.5" cy="861.2" r="14.55"/>
<circle cx="908.2" cy="1057.5" r="14.55"/>
<circle cx="936.2" cy="1065.0" r="14.55"/>
<circle cx="915.0" cy="1071.2" r="14.55"/>
<circle cx="899.5" cy="1080.0" r="14.55"/>
<circle cx="849.5" cy="1067.0" r="14.55"/>
<circle cx="811.2" cy="1075.8" r="14.55"/>
<circle cx="822.5" cy="1086.2" r="14.55"/>
<circle cx="847.5" cy="1092.5" r="14.55"/>
<circle cx="816.2" cy="1105.0" r="14.55"/>
<circle cx="986.2" cy="1087.0" r="14.55"/>
<circle cx="1007.5" cy="1090.0" r="14.55"/>
<circle cx="1037.5" cy="1096.2" r="14.55"/>
<circle cx="947.5" cy="1102.5" r="14.55"/>
<circle cx="935.0" cy="1112.5" r="14.55"/>
<circle cx="1088.5" cy="1113.0" r="14.55"/>
<circle cx="871.2" cy="1110.0" r="14.55"/>
<circle cx="877.5" cy="1123.2" r="14.55"/>
<circle cx="814.5" cy="1117.5" r="14.55"/>
<circle cx="796.2" cy="1130.8" r="14.55"/>
<circle cx="815.5" cy="1140.5" r="14.55"/>
<circle cx="866.5" cy="1150.0" r="14.55"/>
<circle cx="1022.5" cy="1173.8" r="14.55"/>
<circle cx="938.5" cy="1183.8" r="14.55"/>
<circle cx="781.5" cy="1185.5" r="14.55"/>
<circle cx="767.5" cy="1208.5" r="14.55"/>
<circle cx="884.5" cy="1217.2" r="14.55"/>
<circle cx="833.5" cy="1253.0" r="14.55"/>
<circle cx="964.2" cy="1271.2" r="14.55"/>
<circle cx="987.5" cy="398.4" r="14.55"/>
<circle cx="1019.4" cy="386.2" r="14.55"/>
<circle cx="1039.4" cy="404.4" r="14.55"/>
<circle cx="1048.5" cy="428.5" r="14.55"/>
<circle cx="1059.6" cy="368.1" r="14.55"/>
<circle cx="1068.5" cy="372.5" r="14.55"/>
<circle cx="1083.8" cy="424.4" r="14.55"/>
<circle cx="1097.5" cy="418.8" r="14.55"/>
<circle cx="1102.5" cy="383.8" r="14.55"/>
<circle cx="1075.6" cy="474.4" r="14.55"/>
<circle cx="1103.8" cy="456.2" r="14.55"/>
<circle cx="976.2" cy="474.4" r="14.55"/>
<circle cx="959.4" cy="487.5" r="14.55"/>
<circle cx="945.6" cy="503.4" r="14.55"/>
<circle cx="905.6" cy="488.4" r="14.55"/>
<circle cx="992.5" cy="508.8" r="14.55"/>
<circle cx="981.2" cy="526.2" r="14.55"/>
<circle cx="1034.4" cy="511.5" r="14.55"/>
<circle cx="1072.5" cy="526.2" r="14.55"/>
<circle cx="1090.0" cy="493.8" r="14.55"/>
<circle cx="1100.0" cy="498.8" r="14.55"/>
<circle cx="1153.5" cy="366.2" r="14.55"/>
<circle cx="1113.1" cy="379.4" r="14.55"/>
<circle cx="1148.8" cy="392.5" r="14.55"/>
<circle cx="1176.2" cy="392.5" r="14.55"/>
<circle cx="1195.0" cy="399.4" r="14.55"/>
<circle cx="1131.9" cy="410.0" r="14.55"/>
<circle cx="1203.8" cy="410.0" r="14.55"/>
<circle cx="1208.8" cy="420.0" r="14.55"/>
<circle cx="1132.5" cy="428.8" r="14.55"/>
<circle cx="1162.5" cy="417.5" r="14.55"/>
<circle cx="1161.2" cy="425.0" r="14.55"/>
<circle cx="1181.2" cy="425.0" r="14.55"/>
<circle cx="1217.5" cy="432.5" r="14.55"/>
<circle cx="1244.4" cy="443.8" r="14.55"/>
<circle cx="1225.0" cy="446.2" r="14.55"/>
<circle cx="1171.2" cy="443.8" r="14.55"/>
<circle cx="1180.0" cy="452.5" r="14.55"/>
<circle cx="1124.4" cy="455.0" r="14.55"/>
<circle cx="1242.5" cy="458.8" r="14.55"/>
<circle cx="1166.2" cy="463.8" r="14.55"/>
<circle cx="1146.2" cy="476.2" r="14.55"/>
<circle cx="1202.5" cy="468.8" r="14.55"/>
<circle cx="1187.5" cy="472.5" r="14.55"/>
<circle cx="1215.0" cy="475.0" r="14.55"/>
<circle cx="1290.0" cy="487.5" r="14.55"/>
<circle cx="1118.8" cy="482.5" r="14.55"/>
<circle cx="1330.0" cy="500.0" r="14.55"/>
<circle cx="1180.0" cy="501.2" r="14.55"/>
<circle cx="1137.5" cy="502.5" r="14.55"/>
<circle cx="1137.5" cy="518.8" r="14.55"/>
<circle cx="1341.2" cy="348.8" r="14.55"/>
<circle cx="1341.2" cy="383.8" r="14.55"/>
<circle cx="1303.8" cy="332.5" r="14.55"/>
<circle cx="1156.2" cy="490.0" r="14.55"/>
<circle cx="1168.8" cy="483.8" r="14.55"/>
<circle cx="1200.0" cy="490.0" r="14.55"/>
<circle cx="1162.5" cy="512.5" r="14.55"/>
<circle cx="896.5" cy="560.4" r="14.55"/>
<circle cx="818.5" cy="606.2" r="14.55"/>
<circle cx="840.6" cy="603.5" r="14.55"/>
<circle cx="895.4" cy="600.2" r="14.55"/>
<circle cx="887.5" cy="637.5" r="14.55"/>
<circle cx="906.2" cy="627.5" r="14.55"/>
<circle cx="923.1" cy="633.8" r="14.55"/>
<circle cx="943.1" cy="593.8" r="14.55"/>
<circle cx="952.5" cy="600.0" r="14.55"/>
<circle cx="963.8" cy="600.0" r="14.55"/>
<circle cx="967.5" cy="568.1" r="14.55"/>
<circle cx="980.0" cy="561.2" r="14.55"/>
<circle cx="935.0" cy="645.0" r="14.55"/>
<circle cx="923.8" cy="657.5" r="14.55"/>
<circle cx="922.5" cy="675.0" r="14.55"/>
<circle cx="940.0" cy="663.8" r="14.55"/>
<circle cx="961.2" cy="678.8" r="14.55"/>
<circle cx="952.5" cy="645.0" r="14.55"/>
<circle cx="971.2" cy="638.8" r="14.55"/>
<circle cx="818.5" cy="685.0" r="14.55"/>
<circle cx="840.0" cy="696.2" r="14.55"/>
<circle cx="896.2" cy="711.2" r="14.55"/>
<circle cx="918.8" cy="706.2" r="14.55"/>
<circle cx="946.2" cy="682.5" r="14.55"/>
<circle cx="940.0" cy="697.5" r="14.55"/>
<circle cx="958.8" cy="697.5" r="14.55"/>
<circle cx="810.6" cy="718.1" r="14.55"/>
<circle cx="826.2" cy="696.2" r="14.55"/>
<circle cx="834.4" cy="727.5" r="14.55"/>
<circle cx="834.4" cy="737.5" r="14.55"/>
<circle cx="856.9" cy="735.6" r="14.55"/>
<circle cx="822.5" cy="776.2" r="14.55"/>
<circle cx="813.8" cy="792.5" r="14.55"/>
<circle cx="847.5" cy="771.2" r="14.55"/>
<circle cx="850.6" cy="795.6" r="14.55"/>
<circle cx="875.6" cy="770.0" r="14.55"/>
<circle cx="892.5" cy="753.8" r="14.55"/>
<circle cx="901.2" cy="735.0" r="14.55"/>
<circle cx="906.2" cy="750.0" r="14.55"/>
<circle cx="900.0" cy="787.5" r="14.55"/>
<circle cx="915.0" cy="775.0" r="14.55"/>
<circle cx="921.2" cy="762.5" r="14.55"/>
<circle cx="942.5" cy="762.5" r="14.55"/>
<circle cx="953.8" cy="763.8" r="14.55"/>
<circle cx="971.2" cy="771.2" r="14.55"/>
<circle cx="951.2" cy="799.4" r="14.55"/>
<circle cx="987.5" cy="796.2" r="14.55"/>
<circle cx="935.0" cy="787.5" r="14.55"/>
<circle cx="912.5" cy="802.5" r="14.55"/>
<circle cx="887.5" cy="815.0" r="14.55"/>
<circle cx="874.4" cy="820.6" r="14.55"/>
<circle cx="912.5" cy="827.5" r="14.55"/>
<circle cx="933.8" cy="838.8" r="14.55"/>
<circle cx="970.0" cy="823.8" r="14.55"/>
<circle cx="961.2" cy="832.5" r="14.55"/>
<circle cx="857.5" cy="868.8" r="14.55"/>
<circle cx="933.8" cy="862.5" r="14.55"/>
<circle cx="940.0" cy="875.0" r="14.55"/>
<circle cx="927.5" cy="881.2" r="14.55"/>
<circle cx="902.5" cy="775.0" r="14.55"/>
<circle cx="902.5" cy="762.5" r="14.55"/>
<circle cx="915.0" cy="787.5" r="14.55"/>
<circle cx="927.5" cy="800.0" r="14.55"/>
<circle cx="902.5" cy="812.5" r="14.55"/>
<circle cx="946.2" cy="850.0" r="14.55"/>
<circle cx="971.2" cy="843.8" r="14.55"/>
<circle cx="977.5" cy="862.5" r="14.55"/>
<circle cx="965.0" cy="875.0" r="14.55"/>
<circle cx="946.2" cy="831.2" r="14.55"/>
<circle cx="977.5" cy="831.2" r="14.55"/>
<circle cx="933.8" cy="707.5" r="14.55"/>
<circle cx="952.5" cy="703.8" r="14.55"/>
<circle cx="971.2" cy="705.0" r="14.55"/>
<circle cx="915.0" cy="722.5" r="14.55"/>
<circle cx="933.8" cy="725.0" r="14.55"/>
<circle cx="952.5" cy="728.8" r="14.55"/>
<circle cx="971.2" cy="731.2" r="14.55"/>
<circle cx="977.5" cy="715.0" r="14.55"/>
<circle cx="906.2" cy="741.2" r="14.55"/>
<circle cx="1143.1" cy="750.0" r="14.55"/>
<circle cx="1168.8" cy="751.2" r="14.55"/>
<circle cx="1192.5" cy="748.1" r="14.55"/>
<circle cx="1207.5" cy="727.5" r="14.55"/>
<circle cx="1190.0" cy="732.5" r="14.55"/>
<circle cx="1165.0" cy="706.2" r="14.55"/>
<circle cx="1115.6" cy="775.0" r="14.55"/>
<circle cx="1108.8" cy="781.2" r="14.55"/>
<circle cx="1105.0" cy="791.2" r="14.55"/>
<circle cx="1151.2" cy="788.8" r="14.55"/>
<circle cx="1155.0" cy="800.0" r="14.55"/>
<circle cx="1147.5" cy="806.2" r="14.55"/>
<circle cx="1188.5" cy="785.4" r="14.55"/>
<circle cx="1092.5" cy="822.5" r="14.55"/>
<circle cx="1223.8" cy="702.5" r="14.55"/>
<circle cx="903.8" cy="903.8" r="14.55"/>
<circle cx="908.1" cy="897.5" r="14.55"/>
<circle cx="931.9" cy="900.6" r="14.55"/>
<circle cx="977.5" cy="898.8" r="14.55"/>
<circle cx="1007.5" cy="906.2" r="14.55"/>
<circle cx="1017.5" cy="911.9" r="14.55"/>
<circle cx="1039.4" cy="901.2" r="14.55"/>
<circle cx="962.5" cy="825.0" r="14.55"/>
<circle cx="1055.0" cy="548.8" r="14.55"/>
<circle cx="1003.8" cy="581.0" r="14.55"/>
<circle cx="1018.8" cy="607.5" r="14.55"/>
<circle cx="1036.9" cy="573.8" r="14.55"/>
<circle cx="1036.2" cy="603.1" r="14.55"/>
<circle cx="1068.1" cy="595.0" r="14.55"/>
<circle cx="1066.2" cy="567.5" r="14.55"/>
<circle cx="1062.5" cy="623.8" r="14.55"/>
<circle cx="987.5" cy="625.0" r="14.55"/>
<circle cx="1102.5" cy="542.8" r="14.55"/>
<circle cx="1105.0" cy="462.5" r="14.55"/>
<circle cx="1118.0" cy="466.0" r="14.55"/>
<circle cx="946.2" cy="741.2" r="14.55"/>
<circle cx="958.8" cy="741.2" r="14.55"/>
</g>
<g clip-path="url(#ax)" fill="#fff">
<path d="M1091.9 465.6 Q1098.3 471.3 1106.9 472.5 Q1104.1 478.5 1105.0 485.0 Q1102.9 481.7 1099.4 480.0 Q1097.8 471.7 1091.9 465.6 Z"/>
<path d="M1187.5 488.1 Q1195.4 487.8 1201.9 483.1 Q1206.6 492.4 1215.6 497.5 Q1212.6 504.2 1213.8 511.5 Q1208.3 509.1 1202.5 510.0 Q1200.1 504.5 1195.0 501.2 Q1193.2 493.6 1187.5 488.1 Z"/>
<path d="M1203.8 549.4 Q1208.8 548.5 1212.5 545.0 Q1215.1 549.9 1220.0 552.5 Q1219.2 558.4 1221.9 563.8 Q1217.1 560.3 1211.2 560.0 Q1209.1 553.6 1203.8 549.4 Z"/>
<path d="M1126.9 588.1 Q1138.2 586.8 1146.9 579.4 Q1144.5 595.7 1151.5 610.6 Q1149.6 610.7 1148.1 611.9 Q1142.1 602.6 1131.9 598.1 Q1130.9 592.4 1126.9 588.1 Z"/>
<path d="M1051.9 570.6 Q1055.1 577.0 1061.2 580.6 Q1058.4 595.1 1064.0 608.8 Q1057.1 610.8 1052.5 616.2 Q1053.7 607.8 1050.0 600.0 Q1044.1 591.4 1034.4 587.5 Q1045.7 581.7 1051.9 570.6 Z"/>
<path d="M991.2 571.9 Q995.2 587.0 1006.9 597.5 Q1004.0 602.4 1004.4 608.1 Q1011.7 617.8 1023.1 621.9 Q1011.3 622.8 1001.9 630.0 Q999.8 619.8 992.5 612.5 Q986.6 609.4 980.0 610.0 Q981.2 596.8 975.0 585.0 Q985.1 580.9 991.2 571.9 Z"/>
<path d="M1000.0 733.8 Q1009.4 734.2 1017.5 729.4 Q1018.4 737.8 1023.8 744.4 Q1016.3 745.2 1010.6 750.0 Q1004.3 756.3 1002.5 765.0 Q999.4 759.3 993.8 756.2 Q1001.6 751.8 1005.6 743.8 Q1004.3 737.9 1000.0 733.8 Z"/>
<path d="M1056.2 709.4 Q1060.2 707.5 1062.5 703.8 Q1061.2 706.8 1061.9 710.0 Q1059.5 711.0 1058.1 713.1 Q1057.8 711.0 1056.2 709.4 Z"/>
<path d="M1109.4 723.1 Q1117.6 720.8 1123.1 714.4 Q1120.9 720.5 1122.5 726.9 Q1115.9 727.3 1110.6 731.2 Q1111.2 727.0 1109.4 723.1 Z"/>
<path d="M1100.6 762.5 Q1104.9 763.1 1108.8 761.2 Q1104.1 764.3 1101.9 769.4 Q1102.3 765.8 1100.6 762.5 Z"/>
<path d="M1055.0 791.2 Q1055.6 796.2 1058.8 800.0 Q1054.3 802.4 1051.9 806.9 Q1051.2 804.6 1049.4 803.1 Q1054.0 798.0 1055.0 791.2 Z"/>
<path d="M995.6 783.8 Q998.2 783.0 1000.0 781.0 Q999.4 785.4 1001.2 789.4 Q999.3 785.7 995.6 783.8 Z"/>
<path d="M1013.1 817.5 Q1017.8 823.7 1025.0 826.2 Q1026.7 833.2 1031.9 838.1 Q1027.6 833.1 1021.2 831.2 Q1013.9 829.7 1006.9 832.5 Q1008.2 830.2 1008.1 827.5 Q1012.1 823.2 1013.1 817.5 Z"/>
<path d="M1142.5 660.0 Q1145.9 660.0 1148.8 658.1 Q1148.3 661.8 1150.0 665.0 Q1147.4 664.6 1145.0 665.6 Q1144.6 662.4 1142.5 660.0 Z"/>
<path d="M1203.1 661.2 Q1211.8 663.2 1220.0 660.0 Q1220.1 668.9 1225.0 676.2 Q1219.6 680.8 1217.5 687.5 Q1213.8 686.4 1210.0 687.5 Q1213.6 682.4 1213.8 676.2 Q1210.7 667.2 1203.1 661.2 Z"/>
<path d="M1179.0 700.0 Q1182.6 697.0 1184.0 692.5 Q1199.0 697.0 1214.0 692.5 Q1210.9 695.6 1210.0 700.0 Q1207.7 705.9 1209.0 712.0 Q1201.7 710.9 1195.0 714.0 Q1190.0 708.7 1183.0 707.0 Q1182.0 702.9 1179.0 700.0 Z"/>
<path d="M969.0 653.0 Q973.2 655.4 978.0 655.0 Q979.0 664.5 985.0 672.0 Q983.1 676.4 984.0 681.0 Q980.9 675.1 975.0 672.0 Q972.5 665.8 967.0 662.0 Q969.4 657.8 969.0 653.0 Z"/>
<path d="M960.0 711.9 Q961.9 714.5 965.0 715.6 Q968.6 719.4 973.8 720.6 Q970.3 719.6 966.9 720.6 Q964.5 717.2 960.6 715.6 Q960.9 713.7 960.0 711.9 Z"/>
<path d="M1146.9 433.1 Q1150.7 438.7 1156.9 441.2 Q1154.9 446.8 1156.2 452.5 Q1151.8 457.0 1150.6 463.1 Q1141.8 462.9 1134.4 467.5 Q1139.1 460.8 1139.4 452.5 Q1143.4 446.9 1143.8 440.0 Q1146.3 437.0 1146.9 433.1 Z"/>
<path d="M1199.4 432.5 Q1201.3 435.1 1204.4 436.2 Q1204.4 441.7 1207.5 446.2 Q1213.4 450.4 1220.6 450.6 Q1218.7 455.8 1220.0 461.2 Q1215.4 458.5 1210.0 458.8 Q1205.1 454.6 1198.8 453.8 Q1197.2 449.9 1193.8 447.5 Q1195.4 443.2 1194.4 438.8 Q1197.8 436.4 1199.4 432.5 Z"/>
<path d="M1012.5 817.5 Q1017.0 822.9 1023.8 825.0 Q1025.9 832.5 1031.9 837.5 Q1025.9 831.3 1017.5 829.4 Q1011.4 829.2 1006.2 832.5 Q1008.8 828.5 1008.8 823.8 Q1011.6 821.2 1012.5 817.5 Z"/>
<path d="M926.9 811.9 Q933.3 812.1 938.8 808.8 Q941.6 815.1 947.5 818.8 Q944.8 823.1 945.0 828.1 Q940.5 825.1 935.0 825.0 Q931.3 822.5 926.9 822.5 Q928.5 817.2 926.9 811.9 Z"/>
<path d="M966.2 798.8 Q973.1 800.8 980.0 798.8 Q979.5 805.1 982.5 810.6 Q979.0 808.6 975.0 808.8 Q972.1 802.4 966.2 798.8 Z"/>
<path d="M950.0 866.2 Q952.6 865.7 954.4 863.8 Q955.2 866.7 957.5 868.8 Q954.8 869.7 953.1 871.9 Q952.4 868.6 950.0 866.2 Z"/>
<path d="M976.9 873.8 Q982.9 870.8 986.2 865.0 Q983.8 869.7 984.4 875.0 Q980.8 873.2 976.9 873.8 Z"/>
<path d="M996.9 893.1 Q1006.1 891.8 1013.1 885.6 Q1012.1 888.0 1012.5 890.6 Q1004.3 889.5 996.9 893.1 Z"/>
<path d="M1048.8 803.8 Q1053.7 803.2 1057.5 800.0 Q1054.7 802.6 1053.8 806.2 Q1051.6 804.2 1048.8 803.8 Z"/>
<path d="M920.0 739.4 Q923.1 742.7 927.5 743.8 Q933.6 746.2 940.0 745.0 Q946.6 745.6 952.5 742.5 Q957.8 747.5 965.0 748.8 Q970.6 755.2 978.8 757.5 Q973.2 753.1 966.2 752.5 Q959.9 748.6 952.5 748.8 Q946.1 747.5 940.0 750.0 Q933.0 750.6 927.5 755.0 Q926.3 749.9 922.5 746.2 Q922.3 742.4 920.0 739.4 Z"/>
</g>
<g stroke="#b0b0b0" stroke-width="3.33" fill="none">
<line x1="476.50" y1="112.4" x2="476.50" y2="1265.5"/>
<line x1="260.5" y1="1111.40" x2="1875.5" y2="1111.40"/>
<line x1="772.25" y1="112.4" x2="772.25" y2="1265.5"/>
<line x1="260.5" y1="900.25" x2="1875.5" y2="900.25"/>
<line x1="1068.00" y1="112.4" x2="1068.00" y2="1265.5"/>
<line x1="260.5" y1="689.10" x2="1875.5" y2="689.10"/>
<line x1="1363.75" y1="112.4" x2="1363.75" y2="1265.5"/>
<line x1="260.5" y1="477.95" x2="1875.5" y2="477.95"/>
<line x1="1659.50" y1="112.4" x2="1659.50" y2="1265.5"/>
<line x1="260.5" y1="266.80" x2="1875.5" y2="266.80"/>
</g>
<g clip-path="url(#ax)"><line x1="362.00" y1="1275.04" x2="1841.00" y2="49.20" stroke="#ff0000" stroke-width="6.25" stroke-dasharray="23.125 10"/></g>
<rect x="260.5" y="112.4" width="1615.0" height="1153.1" fill="none" stroke="#000" stroke-width="3.33"/>
<g stroke="#000" stroke-width="3.33">
<line x1="476.50" y1="1265.5" x2="476.50" y2="1281.7"/>
<line x1="244.3" y1="1111.40" x2="260.5" y2="1111.40"/>
<line x1="772.25" y1="1265.5" x2="772.25" y2="1281.7"/>
<line x1="244.3" y1="900.25" x2="260.5" y2="900.25"/>
<line x1="1068.00" y1="1265.5" x2="1068.00" y2="1281.7"/>
<line x1="244.3" y1="689.10" x2="260.5" y2="689.10"/>
<line x1="1363.75" y1="1265.5" x2="1363.75" y2="1281.7"/>
<line x1="244.3" y1="477.95" x2="260.5" y2="477.95"/>
<line x1="1659.50" y1="1265.5" x2="1659.50" y2="1281.7"/>
<line x1="244.3" y1="266.80" x2="260.5" y2="266.80"/>
</g>
<text x="414.2" y="1327.2" font-size="44.4" textLength="124.5" lengthAdjust="spacingAndGlyphs" text-anchor="start">−0.04</text>
<text x="710.0" y="1327.2" font-size="44.4" textLength="124.5" lengthAdjust="spacingAndGlyphs" text-anchor="start">−0.02</text>
<text x="1022.2" y="1327.2" font-size="44.4" textLength="91.5" lengthAdjust="spacingAndGlyphs" text-anchor="start">0.00</text>
<text x="1318.0" y="1327.2" font-size="44.4" textLength="91.5" lengthAdjust="spacingAndGlyphs" text-anchor="start">0.02</text>
<text x="1613.8" y="1327.2" font-size="44.4" textLength="91.5" lengthAdjust="spacingAndGlyphs" text-anchor="start">0.04</text>
<text x="104.8" y="1127.6" font-size="44.4" textLength="124.5" lengthAdjust="spacingAndGlyphs" text-anchor="start">−0.04</text>
<text x="104.8" y="916.5" font-size="44.4" textLength="124.5" lengthAdjust="spacingAndGlyphs" text-anchor="start">−0.02</text>
<text x="137.8" y="705.3" font-size="44.4" textLength="91.5" lengthAdjust="spacingAndGlyphs" text-anchor="start">0.00</text>
<text x="137.8" y="494.1" font-size="44.4" textLength="91.5" lengthAdjust="spacingAndGlyphs" text-anchor="start">0.02</text>
<text x="137.8" y="283.0" font-size="44.4" textLength="91.5" lengthAdjust="spacingAndGlyphs" text-anchor="start">0.04</text>
<text x="604.0" y="87.0" font-size="52.0" textLength="927.0" lengthAdjust="spacingAndGlyphs" text-anchor="start">Market Return Against Return of MTB</text>
<text x="815.7" y="1385.4" font-size="44.4" textLength="501.7" lengthAdjust="spacingAndGlyphs" text-anchor="start">Daily Log Return Market</text>
<g transform="translate(76.3,910.5) rotate(-90)">
<text x="0.0" y="0.0" font-size="44.4" textLength="444.5" lengthAdjust="spacingAndGlyphs" text-anchor="start">Daily Log Return MTB</text>
</g>
<rect x="280.8" y="134.0" width="569.1" height="73.0" rx="8.3" ry="8.3" fill="#fff" fill-opacity="0.8" stroke="#cccccc" stroke-opacity="0.8" stroke-width="4.17"/>
<line x1="297.1" y1="167.8" x2="380.4" y2="167.8" stroke="#ff0000" stroke-width="6.25" stroke-dasharray="23.125 10"/>
<text x="415.5" y="182.0" font-size="44.4" textLength="419.0" lengthAdjust="spacingAndGlyphs" text-anchor="start">y = -0.00 + x * 1.16</text>
</svg></body></html>
